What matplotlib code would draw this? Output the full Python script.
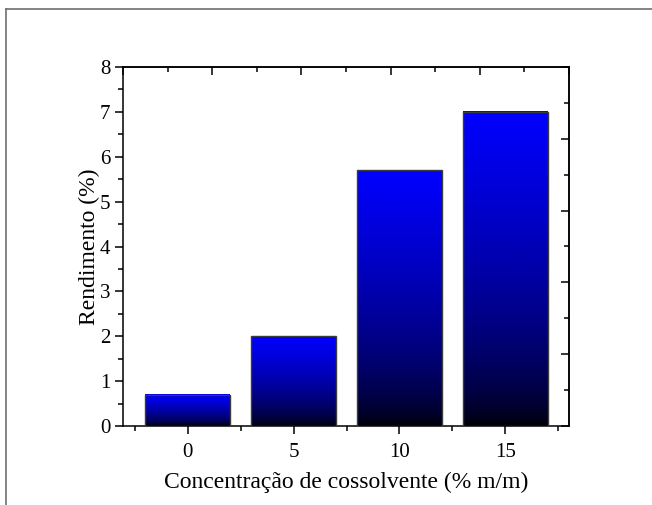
import numpy as np
import matplotlib

matplotlib.use("Agg")
import matplotlib.pyplot as plt  # noqa: E402
from matplotlib.colors import LinearSegmentedColormap  # noqa: E402
from matplotlib.lines import Line2D  # noqa: E402
from matplotlib.ticker import FixedLocator, MultipleLocator, NullFormatter  # noqa: E402

categories = ["0", "5", "10", "15"]
rendimento = [0.7, 2.0, 5.7, 7.0]

XLIM = (-0.61, 3.6)
YLIM = (0, 8)

plt.rcParams["font.family"] = ["Liberation Serif", "DejaVu Serif"]
plt.rcParams["axes.linewidth"] = 1.1

fig = plt.figure(figsize=(6.52, 5.05), dpi=100)
ax = fig.add_axes([123 / 652, 1 - 426 / 505, 446 / 652, 359 / 505])

x = np.arange(len(categories))
bars = ax.bar(x, rendimento, width=0.8, facecolor="none",
              edgecolor="#3c3c3c", linewidth=1.0, zorder=3)

# blue on top fading to black at the base of every bar
cmap = LinearSegmentedColormap.from_list("black_blue", ["#000000", "#0000ff"])
grad = (np.linspace(0, 1, 256) ** 0.6).reshape(-1, 1)
for b in bars:
    x0, w, h = b.get_x(), b.get_width(), b.get_height()
    ax.imshow(grad, extent=[x0, x0 + w, 0, h], origin="lower", cmap=cmap,
              vmin=0, vmax=1, aspect="auto", interpolation="bilinear", zorder=2)

ax.set_xlim(*XLIM)
ax.set_ylim(*YLIM)
ax.set_xticks(x)
ax.set_xticklabels(categories)
ax.xaxis.set_minor_locator(FixedLocator(list(x - 0.5) + [x[-1] + 0.5]))
ax.yaxis.set_major_locator(MultipleLocator(1))
ax.yaxis.set_minor_locator(MultipleLocator(0.5))
ax.tick_params(which="major", direction="out", length=6, width=1.1, labelsize=15)
ax.tick_params(which="minor", direction="out", length=3.5, width=1.1)
ax.tick_params(axis="x", which="major", pad=6)
ax.tick_params(axis="y", which="major", pad=3)

# Origin-style mirrored axes: independent 0..1 scale with inward ticks
span = XLIM[1] - XLIM[0]
top = ax.secondary_xaxis("top", functions=(lambda v: (v - XLIM[0]) / span,
                                            lambda v: v * span + XLIM[0]))
right = ax.secondary_yaxis("right", functions=(lambda v: v / YLIM[1],
                                                lambda v: v * YLIM[1]))
for sec in (top, right):
    axis = sec.xaxis if sec is top else sec.yaxis
    axis.set_major_locator(MultipleLocator(0.2))
    axis.set_minor_locator(MultipleLocator(0.1))
    axis.set_major_formatter(NullFormatter())
    sec.tick_params(which="major", direction="in", length=6, width=1.1)
    sec.tick_params(which="minor", direction="in", length=3.5, width=1.1)

ax.set_xlabel("Concentração de cossolvente (% m/m)", fontsize=17, labelpad=7)
ax.set_ylabel("Rendimento (%)", fontsize=17, labelpad=0)

# thin grey page frame along the top and left edges
fy = 1 - 9 / 505
fx = 6 / 652
fig.add_artist(Line2D([fx, 1], [fy, fy], transform=fig.transFigure,
                      color="#707070", linewidth=1.2))
fig.add_artist(Line2D([fx, fx], [0, fy], transform=fig.transFigure,
                      color="#707070", linewidth=1.2))

fig.savefig("out.png", dpi=100)
